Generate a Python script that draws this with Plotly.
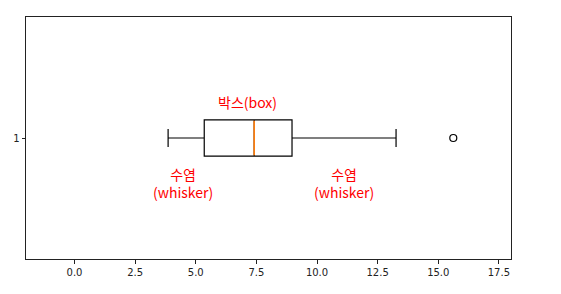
import plotly.graph_objects as go

# Box statistics
category = [1]
q1 = [5.35]
median = [7.41]
q3 = [8.97]
lower_whisker = [3.86]
upper_whisker = [13.26]
outliers_x = [15.62]
outliers_y = [1]

x_ticks = [0.0, 2.5, 5.0, 7.5, 10.0, 12.5, 15.0, 17.5]
x_tick_labels = ["0.0", "2.5", "5.0", "7.5", "10.0", "12.5", "15.0", "17.5"]

labels_text = ["박스(box)", "수염<br>(whisker)", "수염<br>(whisker)"]
labels_x = [7.15, 4.49, 11.13]
labels_y = [1.15, 0.814, 0.814]

box_width = 0.15

fig = go.Figure()
fig.add_trace(go.Box(
    y=category, q1=q1, median=median, q3=q3,
    lowerfence=lower_whisker, upperfence=upper_whisker,
    orientation="h", width=box_width, whiskerwidth=0.5,
    fillcolor="rgba(0,0,0,0)", line=dict(color="black", width=1.2),
    boxpoints=False, hoverinfo="skip", showlegend=False,
))
# orange median line
fig.add_trace(go.Scatter(
    x=[median[0], median[0]],
    y=[category[0] - box_width / 2 + 0.004, category[0] + box_width / 2 - 0.004],
    mode="lines", line=dict(color="#ff7f0e", width=1.6),
    showlegend=False, hoverinfo="skip",
))
# outlier
fig.add_trace(go.Scatter(
    x=outliers_x, y=outliers_y, mode="markers",
    marker=dict(symbol="circle-open", size=7, color="black", line=dict(width=1.2)),
    showlegend=False, hoverinfo="skip",
))

for t, x, y in zip(labels_text, labels_x, labels_y):
    fig.add_annotation(x=x, y=y, text=t, showarrow=False,
                       font=dict(family="Noto Sans CJK KR", size=14, color="red"),
                       xanchor="center", yanchor="middle")

axis_common = dict(showline=True, mirror=True, linecolor="#222", linewidth=1,
                   ticks="outside", ticklen=3.5, tickcolor="#222", showgrid=False,
                   zeroline=False, tickfont=dict(family="DejaVu Sans", size=10, color="#222"))

fig.update_xaxes(range=[-2.0, 18.0], tickvals=x_ticks, ticktext=x_tick_labels, **axis_common)
fig.update_yaxes(range=[0.5, 1.5], tickvals=category, ticktext=["1"], **axis_common)

fig.update_layout(
    width=561, height=294,
    margin=dict(l=26, r=50, t=17, b=35),
    paper_bgcolor="white", plot_bgcolor="white",
)

fig.write_html("out.html")
